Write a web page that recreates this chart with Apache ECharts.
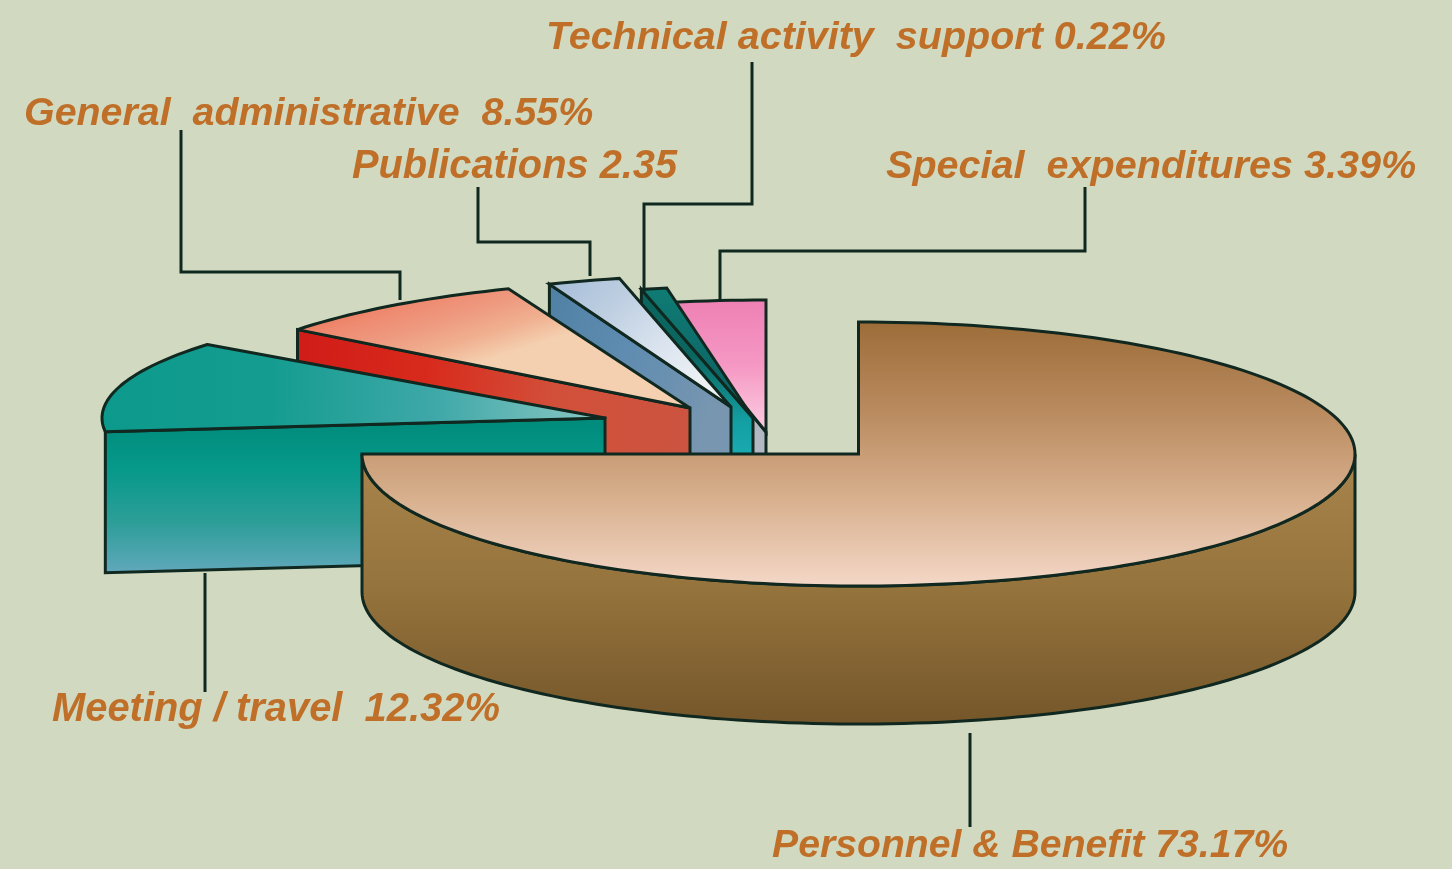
<!DOCTYPE html>
<html>
<head>
<meta charset="utf-8">
<style>html,body{margin:0;padding:0;background:#d1dac1}#c{width:1452px;height:869px}</style>
<script src="https://cdn.jsdelivr.net/npm/echarts@6/dist/echarts.min.js"></script>
</head>
<body>
<div id="c"></div>
<script>
// ---- data (clockwise from 12 o'clock) ----
const categories = ['Personnel & Benefit','Meeting / travel','General administrative','Publications','Technical activity support','Special expenditures'];
const values = [73.17, 12.32, 8.55, 2.35, 0.22, 3.39];
const labelTexts = ['Personnel & Benefit 73.17%','Meeting / travel  12.32%','General  administrative  8.55%','Publications 2.35','Technical activity  support 0.22%','Special  expenditures 3.39%'];

// ---- layout and style (not data) ----
const radii = [[496.5,132],[503,120],[496.5,128],[496.5,132],[496.5,132],[496.5,132]];
const depths = [138,141,138,138,138,138];
const centres = [[858.5,454],[605,418],[690,408],[731,407],[753,418],[766,432]];
const endPads = [6.6,0,0,0,2.2,0];           // drawn sweep slightly wider than the share, as in the drawing
const labelPos = [[772,846],[52,710],[24,114],[352,167],[546,38],[886,167]];
const labelSize = [39.2,39.9,39.4,39.8,39.5,39.6];
const leaders = [
  [[970,733],[970,827]],
  [[205,573],[205,692]],
  [[181,130],[181,272],[400,272],[400,300]],
  [[478,187],[478,242],[590,242],[590,276]],
  [[752,62],[752,204],[644,204],[644,292]],
  [[1085,187],[1085,251],[720,251],[720,302]]
];
const grad = (x2,y2,stops)=>({type:'linear',x:0,y:0,x2,y2,colorStops:stops.map((c,i)=>({offset:i/(stops.length-1),color:c}))});
const topFills = [
  grad(0,1,['#9c6c38','#b98a5e','#d8b08e','#f4d8c8']),
  grad(1,0.15,['#0c9a8c','#149c90','#3fa8a8','#8cc8c4']),
  grad(0.1,1,['#e8604a','#ec7050','#ee8a70','#ee9a80','#f0b090','#f4d0b0']),
  grad(0.7,1,['#a4bcd8','#bccde0','#d8e2ee','#eef2f4']),
  grad(0,1,['#0f7c74','#0c5c60']),
  grad(0,1,['#ee80b4','#f598c4','#fcd0e2'])
];
const wallFills = [
  grad(0,1,['#a8854c','#95733c','#74562a']),
  grad(0,1,['#008a7a','#06998a','#2c9e98','#62a8bc']),
  grad(1,0.1,['#d01c18','#d82a1c','#d2503a','#cc5440']),
  grad(1,0.3,['#4f81a4','#5f8cb0','#7896b0']),
  grad(0,1,['#0c6660','#0c6660','#14a0a4','#20b4bc','#20b4bc']),
  grad(0,1,['#a8b0bc','#bcc0c8'])
];
const INK = '#10281f';

const angleEnds = [];
values.reduce((a,v,i)=>{angleEnds[i]=[a,a+v*3.6];return a+v*3.6;},0);
const pt = (k,deg,dy)=>{const t=deg*Math.PI/180,c=centres[k],r=radii[k];return [c[0]+r[0]*Math.sin(t), c[1]-r[1]*Math.cos(t)+(dy||0)];};
function arc(k,a0,a1,dy){
  const n=Math.max(2,Math.ceil(Math.abs(a1-a0)/1.5)),out=[];
  for(let i=0;i<=n;i++) out.push(pt(k,a0+(a1-a0)*i/n,dy));
  return out;
}
const base = {lineWidth:3,stroke:INK,lineJoin:'miter',miterLimit:3};
const drawOrder = [5,4,3,2,1,0];

function renderItem(params, api){
  const i = params.dataIndex;
  const idx = drawOrder[i];
  const share = api.value(0);
  const c = centres[idx];
  const d = depths[idx];
  const a0 = angleEnds[idx][0];
  const a1 = a0 + share*3.6 + endPads[idx];
  const children = [];
  const z = i*10;
  if(idx===0){
    const up = arc(idx,90,a1,0), low = arc(idx,90,a1,d).reverse();
    children.push({type:'polygon',z2:z,shape:{points:up.concat(low)},style:Object.assign({},base,{fill:wallFills[idx]})});
  } else {
    const s = pt(idx,a0,0);
    children.push({type:'polygon',z2:z,shape:{points:[s,c,[c[0],c[1]+d],[s[0],s[1]+d]]},style:Object.assign({},base,{fill:wallFills[idx]})});
  }
  children.push({type:'polygon',z2:z+1,shape:{points:[c].concat(arc(idx,a0,a1,0))},
    style:Object.assign({},base,{fill:topFills[idx],lineJoin:idx===1?'round':'miter'})});
  return {type:'group',children};
}

const chart = echarts.init(document.getElementById('c'),null,{renderer:'canvas'});
chart.setOption({
  animation:false,
  backgroundColor:'#d1dac1',
  tooltip:{show:false},
  series:[
    {type:'custom',coordinateSystem:'none',silent:true,renderItem,z:2,
     data:drawOrder.map(k=>({name:categories[k],value:[values[k]]}))},
    {type:'custom',coordinateSystem:'none',silent:true,z:3,
     data:categories.map((n,k)=>({name:n,value:[k]})),
     renderItem(params,api){
       const k = params.dataIndex;
       return {type:'group',children:[
         {type:'polyline',shape:{points:leaders[k]},style:{stroke:INK,lineWidth:3,fill:null}},
         {type:'text',x:labelPos[k][0],y:labelPos[k][1],style:{
           text:labelTexts[k],
           font:'italic bold '+labelSize[k]+'px "Liberation Sans", Arial, sans-serif',
           fill:'#bf6f28',textAlign:'left',textVerticalAlign:'middle',
           shadowColor:'rgba(236,160,80,0.9)',shadowBlur:4}}
       ]};
     }}
  ]
});
</script>
</body>
</html>
